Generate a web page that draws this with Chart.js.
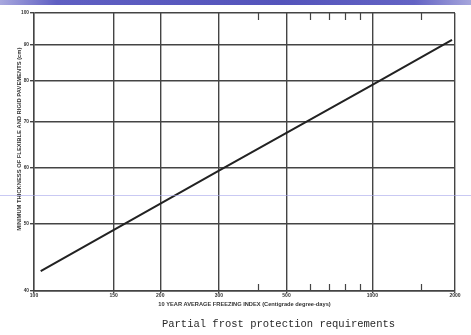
<!DOCTYPE html>
<html>
<head>
<meta charset="utf-8">
<script src="https://cdn.jsdelivr.net/npm/chart.js@4"></script>
<style>
    html, body { margin: 0; padding: 0; background: #fff; }
    #wrap { position: relative; width: 471px; height: 335px; overflow: hidden; }
    #topBar {
        position: absolute; left: 0; top: 0; width: 471px; height: 5px;
        background: linear-gradient(90deg, #a8a8de 0%, #5f5fc2 12%, #5454bb 60%, #6363c4 88%, #a6a6dc 100%);
    }
    #guide {
        position: absolute; left: 0; top: 195px; width: 471px; height: 1px;
        background: rgba(165, 165, 235, 0.6); pointer-events: none;
    }
    #caption {
        position: absolute; left: 0; top: 318px; width: 471px; padding-left: 86px; box-sizing: border-box;
        text-align: center; font-family: 'Liberation Mono', 'DejaVu Sans Mono', monospace;
        font-size: 10.5px; color: #2a2a2a;
    }
    canvas { position: absolute; left: 0; top: 0; }
</style>
</head>
<body>
<div id="wrap">
    <canvas id="frostChart" width="471" height="335"></canvas>
    <div id="topBar"></div>
    <div id="guide"></div>
    <div id="caption">Partial frost protection requirements</div>
</div>
<script>
// ─── Data ───
const freezingIndex = [103, 300, 1000, 1950];          // centigrade degree-days
const thickness = [42.7, 59.5, 78.9, 91.5];           // cm
const xTickValues = [100, 150, 200, 300, 500, 1000, 2000];
const xMinorTicks = [400, 600, 700, 800, 900, 1500];
const yTickValues = [40, 50, 60, 70, 80, 90, 100];

// x axis of the original is log(index - 50)
const X_OFFSET = 50;
const toAxis = (v) => Math.log10(v - X_OFFSET);

const ink = '#444';

// ─── Minor ticks on top / bottom borders ───
const minorTicks = {
    id: 'minorTicks',
    afterDatasetsDraw(chart) {
        const { ctx, chartArea, scales: { x } } = chart;
        ctx.save();
        ctx.strokeStyle = ink;
        ctx.lineWidth = 1.2;
        xMinorTicks.forEach(v => {
            const px = Math.round(x.getPixelForValue(toAxis(v))) + 0.5;
            ctx.beginPath();
            ctx.moveTo(px, chartArea.top);
            ctx.lineTo(px, chartArea.top + 7);
            ctx.moveTo(px, chartArea.bottom - 7);
            ctx.lineTo(px, chartArea.bottom);
            ctx.stroke();
        });
        ctx.restore();
    }
};

new Chart(document.getElementById('frostChart').getContext('2d'), {
    type: 'line',
    data: {
        datasets: [{
            data: freezingIndex.map((f, i) => ({ x: toAxis(f), y: thickness[i] })),
            borderColor: '#222',
            borderWidth: 2,
            pointRadius: 0,
            tension: 0,
        }]
    },
    options: {
        responsive: false,
        animation: false,
        layout: { padding: { left: 0, top: 13, right: 16, bottom: 0 } },
        plugins: { legend: { display: false }, tooltip: { enabled: false } },
        scales: {
            x: {
                type: 'linear',
                min: toAxis(xTickValues[0]),
                max: toAxis(xTickValues[xTickValues.length - 1]),
                afterBuildTicks: (scale) => { scale.ticks = xTickValues.map(v => ({ value: toAxis(v) })); },
                afterFit: (scale) => { scale.height = 44; },
                grid: { color: ink, lineWidth: 1.4, tickLength: 2, tickColor: ink },
                border: { color: ink, width: 1.4 },
                ticks: {
                    autoSkip: false, maxRotation: 0, padding: 0, color: '#333',
                    font: { family: 'Liberation Sans', size: 5, weight: 'bold' },
                    callback: (v, i) => xTickValues[i]
                },
                title: {
                    display: true,
                    text: '10 YEAR AVERAGE FREEZING INDEX (Centigrade degree-days)',
                    color: '#333',
                    padding: { top: 0, bottom: 27 },
                    font: { family: 'Liberation Sans', size: 5.7, weight: 'bold' }
                }
            },
            y: {
                type: 'logarithmic',
                min: 40,
                max: 100,
                afterBuildTicks: (scale) => { scale.ticks = yTickValues.map(v => ({ value: v })); },
                afterFit: (scale) => { scale.width = 34; },
                grid: { color: ink, lineWidth: 1.4, tickLength: 4, tickColor: ink },
                border: { color: ink, width: 1.4 },
                ticks: {
                    autoSkip: false, padding: 1, color: '#333',
                    font: { family: 'Liberation Sans', size: 4.8, weight: 'bold' },
                    callback: (v) => v
                },
                title: {
                    display: true,
                    // leading spaces push the printed label up, as in the scan
                    text: ' '.repeat(16) + 'MINIMUM THICKNESS OF FLEXIBLE AND RIGID PAVEMENTS (cm)',
                    color: '#333',
                    padding: { top: 16, bottom: 0 },
                    font: { family: 'Liberation Sans', size: 5.8, weight: 'bold' }
                }
            }
        }
    },
    plugins: [minorTicks]
});
</script>
</body>
</html>
